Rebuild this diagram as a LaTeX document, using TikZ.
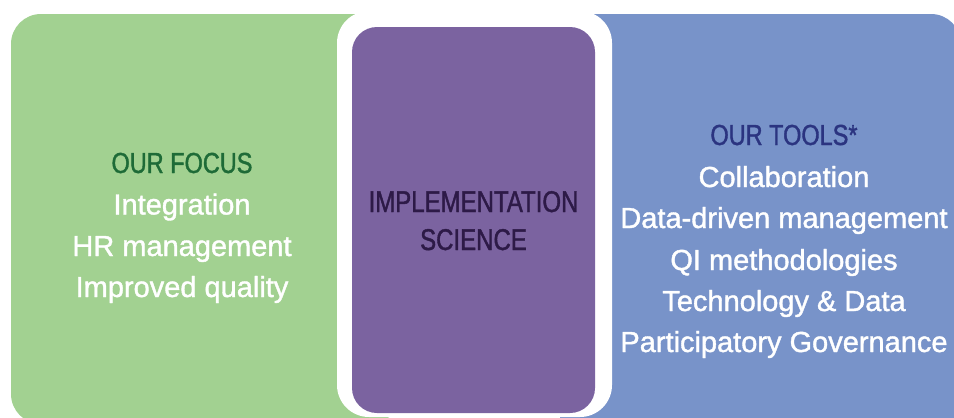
\documentclass[tikz,border=0pt]{standalone}
\usepackage{fontspec}
\setmainfont{Liberation Sans}[FakeBold=1.3]
\newfontfamily\capsfont{Liberation Sans}[FakeStretch=0.81,FakeBold=1.3]
\newfontfamily\capsfontb{Liberation Sans}[FakeStretch=0.8,FakeBold=1.3]
\definecolor{greenfill}{HTML}{A2D191}
\definecolor{purplefill}{HTML}{7B63A0}
\definecolor{bluefill}{HTML}{7893C9}
\definecolor{darkgreen}{HTML}{1E6B37}
\definecolor{darknavy}{HTML}{2B3480}
\definecolor{darkplum}{HTML}{2D1A47}
\tikzset{
  panel/.style={rounded corners=30pt},
  linetext/.style={anchor=base, inner sep=0pt, text=white, font=\fontsize{29}{35}\selectfont},
  headtext/.style={anchor=base, inner sep=0pt, font=\fontsize{29}{35}\selectfont\capsfont},
  centertext/.style={anchor=base, inner sep=0pt, text=darkplum, font=\fontsize{30}{35}\selectfont\capsfontb}
}
\begin{document}
\begin{tikzpicture}[x=1pt,y=-1pt]
\useasboundingbox (0,0) rectangle (954,418);
\fill[white] (0,0) rectangle (954,418);
% side panels
\fill[greenfill, panel] (11,14) rectangle (400,424);
\fill[bluefill, panel] (560,14) rectangle (961,450);
% white frame and centre panel
\fill[white, rounded corners=32pt] (337,11) rectangle (612,417);
\fill[purplefill, rounded corners=25pt] (352,27) rectangle (595,413);
% left texts
\node[headtext, text=darkgreen] (f0) at (182,173) {OUR FOCUS};
\node[linetext] (f1) at (182,214.5) {Integration};
\node[linetext] (f2) at (182,256) {HR management};
\node[linetext] (f3) at (182,297) {Improved quality};
% centre texts
\node[centertext] (c1) at (473.5,212) {IMPLEMENTATION};
\node[centertext] (c2) at (473.5,250) {SCIENCE};
% right texts
\node[headtext, text=darknavy] (t0) at (784,145) {OUR TOOLS*};
\node[linetext] (t1) at (784,187) {Collaboration};
\node[linetext] (t2) at (784,228) {Data-driven management};
\node[linetext] (t3) at (784,270) {QI methodologies};
\node[linetext] (t4) at (784,311) {Technology \& Data};
\node[linetext] (t5) at (784,352) {Participatory Governance};
\end{tikzpicture}
\end{document}
